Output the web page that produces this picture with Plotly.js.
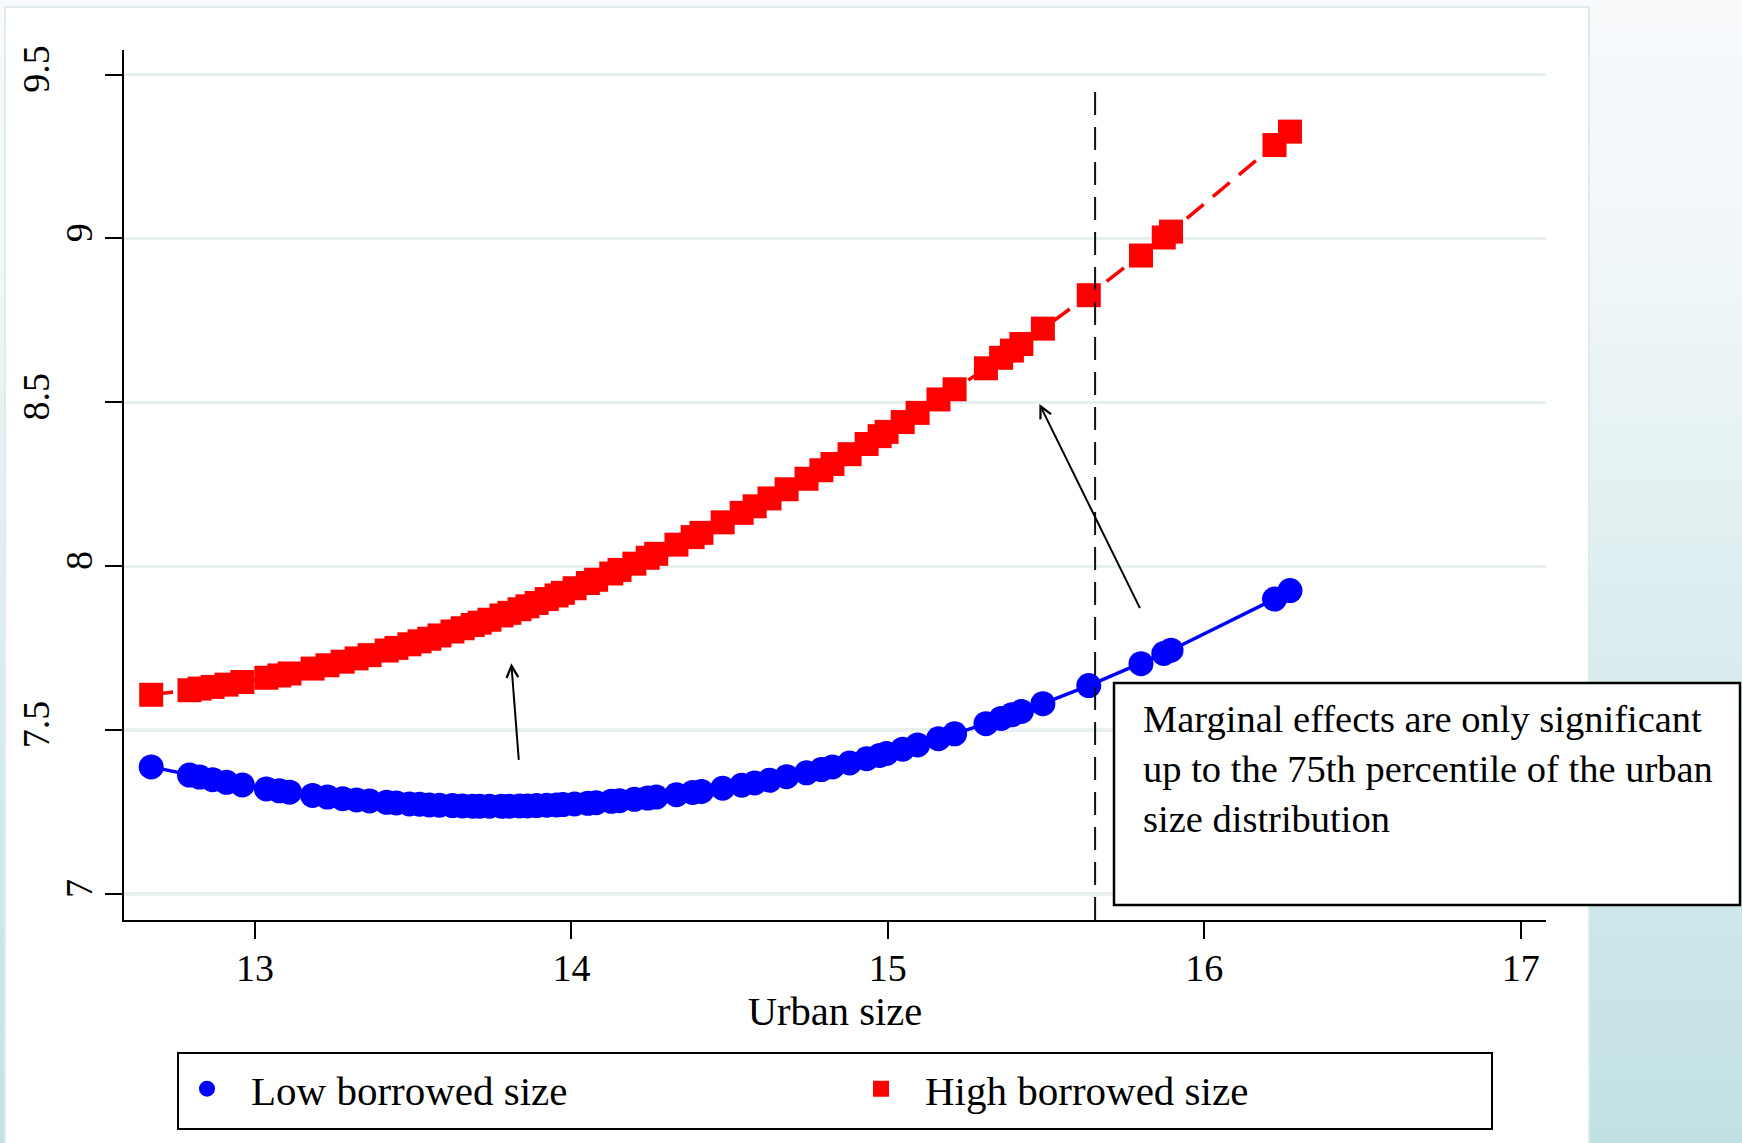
<!DOCTYPE html>
<html>
<head>
<meta charset="utf-8">
<script src="https://cdn.plot.ly/plotly-3.0.1.min.js"></script>
<style>
  html, body { margin: 0; padding: 0; }
  #chart {
    width: 1742px;
    height: 1143px;
    background: linear-gradient(to bottom, #f8fafc 0%, #eff6f7 25%, #dcedef 55%, #c2e1e4 100%);
  }
</style>
</head>
<body>
<div id="chart"></div>
<script>
// Urban size (log) at which the predictions are evaluated
const urbanSize = [
  12.672, 12.793, 12.825, 12.866, 12.910, 12.960, 13.036, 13.077, 13.109, 13.182,
  13.229, 13.277, 13.321, 13.362, 13.416, 13.447, 13.488, 13.520, 13.551, 13.583,
  13.624, 13.656, 13.688, 13.710, 13.741, 13.779, 13.804, 13.836, 13.861, 13.890,
  13.922, 13.953, 13.973, 14.010, 14.052, 14.078, 14.126, 14.152, 14.199, 14.241,
  14.268, 14.332, 14.383, 14.411, 14.478, 14.538, 14.579, 14.626, 14.680, 14.743,
  14.790, 14.825, 14.879, 14.933, 14.974, 14.996, 15.047, 15.094, 15.160, 15.211,
  15.310, 15.358, 15.392, 15.422, 15.490, 15.635, 15.800, 15.872, 15.895, 16.222,
  16.271
];

// Predicted outcome, low borrowed size
const lowBorrowed = [
  7.388, 7.363, 7.357, 7.349, 7.341, 7.333, 7.321, 7.315, 7.311, 7.301,
  7.296, 7.291, 7.287, 7.284, 7.280, 7.278, 7.275, 7.274, 7.272, 7.271,
  7.270, 7.269, 7.268, 7.268, 7.268, 7.268, 7.268, 7.269, 7.269, 7.270,
  7.271, 7.272, 7.273, 7.275, 7.277, 7.279, 7.283, 7.285, 7.289, 7.293,
  7.296, 7.303, 7.310, 7.313, 7.323, 7.332, 7.339, 7.347, 7.358, 7.370,
  7.380, 7.388, 7.400, 7.413, 7.423, 7.429, 7.442, 7.455, 7.474, 7.489,
  7.520, 7.536, 7.547, 7.557, 7.581, 7.636, 7.703, 7.734, 7.744, 7.900,
  7.926
];

// Predicted outcome, high borrowed size
const highBorrowed = [
  7.608, 7.622, 7.627, 7.632, 7.639, 7.647, 7.660, 7.667, 7.673, 7.688,
  7.698, 7.709, 7.719, 7.729, 7.743, 7.751, 7.762, 7.771, 7.779, 7.789,
  7.801, 7.811, 7.821, 7.828, 7.837, 7.850, 7.858, 7.869, 7.878, 7.888,
  7.900, 7.911, 7.919, 7.933, 7.949, 7.959, 7.978, 7.989, 8.008, 8.026,
  8.038, 8.066, 8.089, 8.102, 8.134, 8.163, 8.183, 8.207, 8.235, 8.267,
  8.293, 8.312, 8.342, 8.373, 8.397, 8.410, 8.440, 8.468, 8.509, 8.540,
  8.604, 8.636, 8.658, 8.678, 8.725, 8.827, 8.948, 9.003, 9.021, 9.285,
  9.326
];

const seriesNames = ['Low borrowed size', 'High borrowed size'];
const xTickVals = [13, 14, 15, 16, 17];
const yHalfTicks = [7.5, 8.5, 9.5];
const yWholeTicks = [7, 8, 9];
const yAllTicks = [7, 7.5, 8, 8.5, 9, 9.5];

// 75th percentile of the urban size distribution
const p75Urban = 15.655;
const p75LineTop = 9.462;

// Arrows: [tailX, tailY, headX, headY]
const arrowLow = [13.834, 7.405, 13.810, 7.704];
const arrowHigh = [15.799, 7.868, 15.479, 8.495];

const noteText = 'Marginal effects are only significant<br>up to the 75th percentile of the urban<br>size distribution';
const xTitle = 'Urban size';

const xRange = [12.586, 17.080];
const yRange = [6.921, 9.575];

// plot-area geometry in pixels, used to place paper-referenced items
const L = 124, T = 50, W = 1422, H = 870;
const px = p => (p - L) / W;
const py = p => (T + H - p) / H;

const FONT = 'Liberation Serif, Times New Roman, serif';
const BLUE = '#0000ff';
const RED = '#ff0000';

const traces = [
  { x: urbanSize, y: lowBorrowed, type: 'scatter', mode: 'lines',
    line: { color: BLUE, width: 3.5 }, showlegend: false, hoverinfo: 'skip' },
  { x: urbanSize, y: highBorrowed, type: 'scatter', mode: 'lines',
    line: { color: RED, width: 3.5, dash: '22px,12px' }, showlegend: false, hoverinfo: 'skip' },
  { x: urbanSize, y: lowBorrowed, type: 'scatter', mode: 'markers', name: seriesNames[0],
    marker: { symbol: 'circle', size: 25, color: BLUE } },
  { x: urbanSize, y: highBorrowed, type: 'scatter', mode: 'markers', name: seriesNames[1],
    marker: { symbol: 'square', size: 24, color: RED } },
  // empty trace so the second y axis (whole-number labels) gets drawn
  { x: [], y: [], type: 'scatter', mode: 'markers', yaxis: 'y2',
    showlegend: false, hoverinfo: 'skip' }
];

function arrowAnn(a) {
  return {
    x: a[2], y: a[3], ax: a[0], ay: a[1],
    xref: 'x', yref: 'y', axref: 'x', ayref: 'y',
    text: '', showarrow: true, arrowhead: 5, arrowsize: 1.15, arrowwidth: 2,
    arrowcolor: '#000000', standoff: 0, startstandoff: 0
  };
}

const layout = {
  width: 1742,
  height: 1143,
  margin: { l: L, r: 1742 - L - W, t: T, b: 1143 - T - H, autoexpand: false },
  paper_bgcolor: 'rgba(0,0,0,0)',
  plot_bgcolor: 'rgba(0,0,0,0)',
  font: { family: FONT, color: '#000000', size: 38 },
  showlegend: true,
  legend: {
    orientation: 'h',
    x: px(163), y: py(1089), xanchor: 'left', yanchor: 'middle',
    bgcolor: 'rgba(0,0,0,0)', borderwidth: 0,
    font: { family: FONT, size: 41, color: '#000000' },
    itemwidth: 78,
    entrywidth: 581, entrywidthmode: 'pixels',
    traceorder: 'normal'
  },
  xaxis: {
    range: xRange,
    tickvals: xTickVals,
    ticktext: xTickVals.map(String),
    ticks: 'outside', ticklen: 17, tickwidth: 2, tickcolor: '#000000',
    showline: true, linecolor: '#000000', linewidth: 2,
    showgrid: false, zeroline: false,
    tickfont: { family: FONT, size: 38 },
    ticklabelstandoff: -4,
    title: { text: xTitle, font: { family: FONT, size: 40.5 }, standoff: 0 },
    automargin: false
  },
  yaxis: {
    range: yRange,
    tickvals: yAllTicks,
    ticktext: yAllTicks.map(v => yHalfTicks.includes(v) ? String(v) : ''),
    tickangle: -90,
    ticks: 'outside', ticklen: 17, tickwidth: 2, tickcolor: '#000000',
    showline: true, linecolor: '#000000', linewidth: 2,
    showgrid: true, gridcolor: '#e7eff1', gridwidth: 3.5,
    zeroline: false,
    tickfont: { family: FONT, size: 38 },
    ticklabelstandoff: 41,
    automargin: false
  },
  yaxis2: {
    range: yRange,
    overlaying: 'y', side: 'left',
    tickvals: yWholeTicks,
    ticktext: yWholeTicks.map(String),
    tickangle: -90,
    ticks: '', showline: false, showgrid: false, zeroline: false,
    tickfont: { family: FONT, size: 38 },
    ticklabelstandoff: 23,
    automargin: false
  },
  shapes: [
    // white graph panel
    { type: 'rect', xref: 'paper', yref: 'paper', layer: 'below',
      x0: px(5), x1: px(1589), y0: py(1160), y1: py(7),
      fillcolor: '#ffffff', line: { color: '#e1eaed', width: 2 } },
    // 75th percentile marker
    { type: 'line', xref: 'x', yref: 'y', layer: 'above',
      x0: p75Urban, x1: p75Urban, y0: yRange[0], y1: p75LineTop,
      line: { color: '#111111', width: 2, dash: '23px,12px' } },
    // note box
    { type: 'rect', xref: 'paper', yref: 'paper', layer: 'above',
      x0: px(1114), x1: px(1740), y0: py(905), y1: py(683),
      fillcolor: '#ffffff', line: { color: '#000000', width: 2.5 } },
    // legend frame
    { type: 'rect', xref: 'paper', yref: 'paper', layer: 'above',
      x0: px(178), x1: px(1492), y0: py(1129), y1: py(1053),
      fillcolor: 'rgba(0,0,0,0)', line: { color: '#000000', width: 2 } }
  ],
  annotations: [
    arrowAnn(arrowLow),
    arrowAnn(arrowHigh),
    { xref: 'paper', yref: 'paper', x: px(1142), y: py(697),
      xanchor: 'left', yanchor: 'top', align: 'left',
      text: noteText, showarrow: false, borderpad: 0,
      font: { family: FONT, size: 38.5, color: '#000000' } }
  ]
};

Plotly.newPlot('chart', traces, layout, { displayModeBar: false, staticPlot: true });
</script>
</body>
</html>
